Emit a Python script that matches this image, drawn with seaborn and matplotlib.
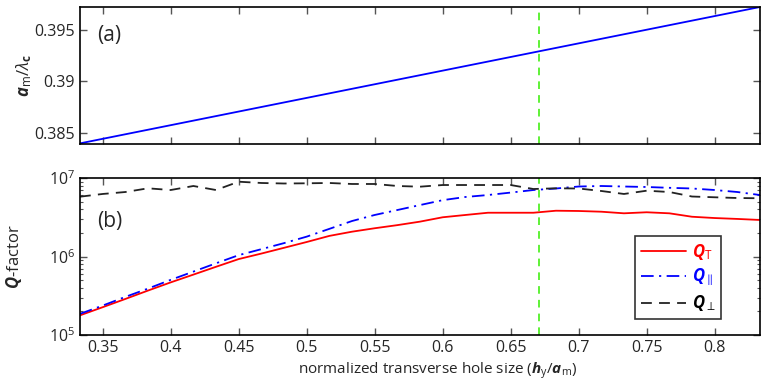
import numpy as np
import pandas as pd
import matplotlib
matplotlib.use("Agg")
import matplotlib.pyplot as plt
import seaborn as sns
from matplotlib.ticker import LogLocator, NullFormatter
from matplotlib.lines import Line2D

# ---------------- data ----------------
hy = [0.3333, 0.3500, 0.3667, 0.3833, 0.4000, 0.4167, 0.4333, 0.4500, 0.4667, 0.4833,
      0.5000, 0.5167, 0.5333, 0.5500, 0.5667, 0.5833, 0.6000, 0.6167, 0.6333, 0.6500,
      0.6667, 0.6833, 0.7000, 0.7167, 0.7333, 0.7500, 0.7667, 0.7833, 0.8000, 0.8167,
      0.8333]
q_total = [1.78e5, 2.26e5, 2.88e5, 3.68e5, 4.68e5, 5.88e5, 7.39e5, 9.27e5, 1.09e6, 1.29e6,
           1.53e6, 1.83e6, 2.07e6, 2.29e6, 2.51e6, 2.78e6, 3.16e6, 3.38e6, 3.61e6, 3.61e6,
           3.61e6, 3.83e6, 3.80e6, 3.72e6, 3.55e6, 3.66e6, 3.55e6, 3.21e6, 3.09e6, 3.01e6,
           2.92e6]
q_par = [1.86e5, 2.37e5, 3.06e5, 3.90e5, 5.04e5, 6.42e5, 8.19e5, 1.04e6, 1.24e6, 1.48e6,
         1.79e6, 2.25e6, 2.83e6, 3.38e6, 3.91e6, 4.52e6, 5.22e6, 5.73e6, 6.07e6, 6.52e6,
         7.03e6, 7.35e6, 7.79e6, 7.91e6, 7.79e6, 7.68e6, 7.50e6, 7.35e6, 7.03e6, 6.63e6,
         6.07e6]
q_perp = [5.78e6, 6.26e6, 6.63e6, 7.39e6, 7.03e6, 7.91e6, 7.03e6, 8.97e6, 8.64e6, 8.51e6,
          8.56e6, 8.64e6, 8.39e6, 8.39e6, 7.91e6, 7.75e6, 8.14e6, 8.14e6, 8.14e6, 8.14e6,
          7.24e6, 7.39e6, 7.35e6, 6.83e6, 6.26e6, 6.89e6, 6.63e6, 5.81e6, 5.68e6, 5.56e6,
          5.52e6]

hy_a = [0.3333, 0.8333]
am_lambda = [0.3840, 0.3972]

hy_selected = 0.6706

xticks = [0.35, 0.4, 0.45, 0.5, 0.55, 0.6, 0.65, 0.7, 0.75, 0.8]
xticklabels = ['0.35', '0.4', '0.45', '0.5', '0.55', '0.6', '0.65', '0.7', '0.75', '0.8']
yticks_a = [0.385, 0.39, 0.395]
yticklabels_a = ['0.385', '0.39', '0.395']

# ---------------- style ----------------
sns.set_style("ticks")
FONT = "Open Sans"
plt.rcParams['font.family'] = [FONT, 'DejaVu Sans']
plt.rcParams['mathtext.fontset'] = 'custom'
plt.rcParams['mathtext.rm'] = FONT
plt.rcParams['mathtext.it'] = FONT + ':italic'
plt.rcParams['mathtext.bf'] = FONT + ':bold'
plt.rcParams['mathtext.bfit'] = FONT + ':bold:italic'
plt.rcParams['mathtext.sf'] = FONT
plt.rcParams['xtick.direction'] = 'in'
plt.rcParams['ytick.direction'] = 'in'
plt.rcParams['axes.edgecolor'] = 'black'
plt.rcParams['axes.linewidth'] = 1.2

FS = 11

fig = plt.figure(figsize=(7.62, 3.83), dpi=100)
W, H = 762, 383
ax1 = fig.add_axes([80 / W, 1 - 144 / H, 680 / W, 137 / H])
ax2 = fig.add_axes([80 / W, 1 - 335 / H, 680 / W, 157 / H])

xlim = (1 / 3, 5 / 6)
green = '#33ee00'
green_ls = (0, (5, 4))

# ---- panel (a)
df_a = pd.DataFrame({'hy': hy_a, 'val': am_lambda})
sns.lineplot(data=df_a, x='hy', y='val', ax=ax1, color='#0000ff', lw=1.3)
ax1.axvline(hy_selected, color=green, lw=1.1, ls=green_ls)
ax1.set_xlim(*xlim)
ax1.set_ylim(0.38394, 0.39720)
ax1.set_xticks(xticks)
ax1.set_xticklabels([])
ax1.set_yticks(yticks_a)
ax1.set_yticklabels(yticklabels_a)
ax1.set_xlabel('')
ax1.set_ylabel(r'$\mathbfit{a}_\mathrm{m}/\lambda_\mathbf{c}$', fontsize=FS + 1)
ax1.yaxis.set_label_coords(-0.068, 0.5)
ax1.text(0.025, 0.79, '(a)', transform=ax1.transAxes, fontsize=FS + 4, va='center')

# ---- panel (b)
df_b = pd.DataFrame({'hy': hy * 3,
                     'Q': q_total + q_par + q_perp,
                     'kind': ['T'] * len(hy) + ['par'] * len(hy) + ['perp'] * len(hy)})
palette = {'T': '#ff0000', 'par': '#0000ff', 'perp': '#222222'}
dash_par = (7, 3, 1.2, 3)
dash_perp = (6, 4)
sns.lineplot(data=df_b, x='hy', y='Q', hue='kind', style='kind', palette=palette,
             dashes={'T': '', 'par': dash_par, 'perp': dash_perp},
             ax=ax2, lw=1.3, legend=False)
ax2.axvline(hy_selected, color=green, lw=1.1, ls=green_ls)
ax2.set_yscale('log')
ax2.set_xlim(*xlim)
ax2.set_ylim(1e5, 1e7)
ax2.set_xticks(xticks)
ax2.set_xticklabels(xticklabels)
ax2.yaxis.set_major_locator(LogLocator(base=10, numticks=10))
ax2.yaxis.set_minor_locator(LogLocator(base=10, subs=np.arange(2, 10), numticks=20))
ax2.yaxis.set_minor_formatter(NullFormatter())
ax2.set_xlabel(r'normalized transverse hole size ($\mathbfit{h}_\mathrm{y}/\mathbfit{a}_\mathrm{m}$)',
               fontsize=FS)
ax2.xaxis.set_label_coords(0.526, -0.16)
ax2.set_ylabel(r'$\mathbfit{Q}$-factor', fontsize=FS + 1)
ax2.yaxis.set_label_coords(-0.082, 0.5)
ax2.text(0.025, 0.72, '(b)', transform=ax2.transAxes, fontsize=FS + 4, va='center')

handles = [Line2D([], [], color='#ff0000', lw=1.3),
           Line2D([], [], color='#0000ff', lw=1.3, dashes=dash_par),
           Line2D([], [], color='#222222', lw=1.3, dashes=dash_perp)]
labels = [r'$\mathbfit{Q}_\mathrm{T}$', r'$\mathbfit{Q}_{\parallel}$', r'$\mathbfit{Q}_{\perp}$']
leg = ax2.legend(handles, labels, loc='upper left', bbox_to_anchor=(0.816, 0.631),
                 fontsize=FS + 1, handlelength=2.7, frameon=True, fancybox=False,
                 borderpad=0.35, labelspacing=0.3, handletextpad=0.35, borderaxespad=0)
leg.get_frame().set_edgecolor('black')
leg.get_frame().set_linewidth(1.2)
for t, c in zip(leg.get_texts(), ['#ff0000', '#0000ff', '#000000']):
    t.set_color(c)

for ax in (ax1, ax2):
    ax.tick_params(which='both', top=True, right=True, labelsize=FS + 0.5, color='#555555')
    ax.tick_params(which='major', length=5, width=1.0)
    ax.tick_params(which='minor', length=2.5, width=0.8)
    for s in ax.spines.values():
        s.set_visible(True)
        s.set_color('black')

fig.savefig('out.png', dpi=100)
